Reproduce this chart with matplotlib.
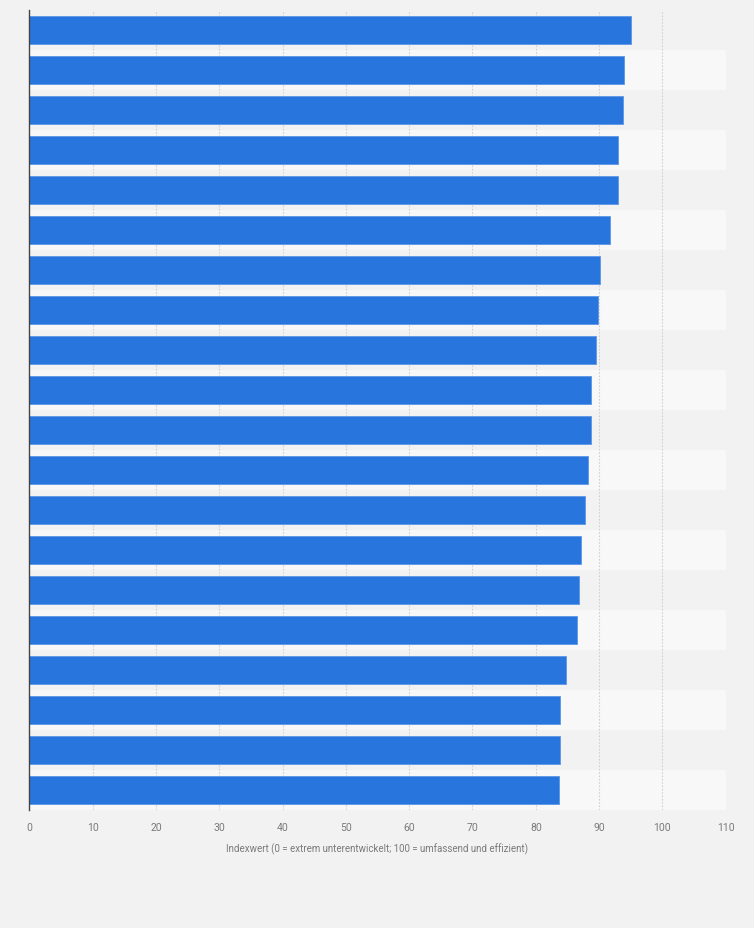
import matplotlib.pyplot as plt

# Indexwerte (von oben nach unten), Kategorien im Original ohne Beschriftung
werte = [95.1, 94.0, 93.7, 93.0, 93.0, 91.8, 90.1, 89.9, 89.5, 88.8,
         88.7, 88.2, 87.8, 87.1, 86.9, 86.5, 84.7, 83.9, 83.8, 83.7]
positionen = list(range(len(werte)))
x_ticks = [0, 10, 20, 30, 40, 50, 60, 70, 80, 90, 100, 110]
x_label = 'Indexwert (0 = extrem unterentwickelt; 100 = umfassend und effizient)'

plt.rcParams['font.family'] = ['Roboto', 'DejaVu Sans']

fig = plt.figure(figsize=(7.54, 9.29), dpi=100, facecolor='#f2f2f2')
ax = fig.add_axes([29.3 / 754, 1 - 811 / 929, (725.7 - 29.3) / 754, 800 / 929])
ax.set_facecolor('#f2f2f2')

# abwechselnde Zeilenhintergründe
for i in positionen:
    farbe = '#f2f2f2' if i % 2 == 0 else '#f8f8f8'
    ax.axhspan(i - 0.5, i + 0.5, color=farbe, zorder=0, lw=0)

ax.barh(positionen, werte, height=0.7, color='#2876dd',
        edgecolor='#5b97e6', linewidth=0.6, zorder=3)

ax.set_xlim(0, 110)
ax.set_ylim(len(werte) - 0.5, -0.5)
ax.set_xticks(x_ticks)
ax.set_xticklabels([str(t) for t in x_ticks])
ax.set_yticks([])

for t in x_ticks[1:]:
    ax.axvline(t, color='#d0d0d0', linestyle=(0, (1.5, 1.5)), linewidth=0.8, zorder=1)

for s in ['top', 'right', 'bottom']:
    ax.spines[s].set_visible(False)
ax.spines['left'].set_color('#444444')
ax.spines['left'].set_linewidth(1.0)
ax.spines['left'].set_zorder(4)

ax.tick_params(axis='x', length=0, pad=9, labelsize=7.5, labelcolor='#7a7a7a')
ax.set_xlabel(x_label, fontsize=7, color='#7a7a7a', labelpad=7)

plt.savefig('out.png', dpi=100, facecolor=fig.get_facecolor())
